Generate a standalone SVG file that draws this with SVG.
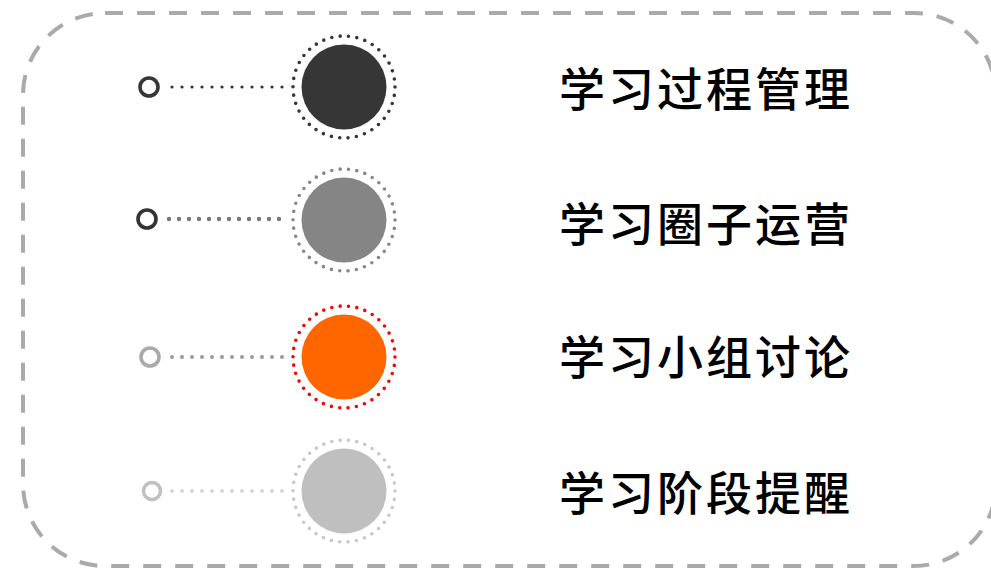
<svg xmlns="http://www.w3.org/2000/svg" width="991" height="570" viewBox="0 0 991 570">
<style>
.frame{fill:none;stroke:#aaaaaa;stroke-width:4;stroke-dasharray:18 14}
.ring{fill:none;stroke-width:3.6;stroke-linecap:round;stroke-dasharray:0 8.43}
.dotline{fill:none;stroke-linecap:round;stroke-dasharray:0 10}
.knob{fill:#ffffff;stroke-width:3.6}
.label{font-family:"Noto Sans CJK SC","Noto Sans CJK JP",sans-serif;font-size:46px;font-weight:500;fill:#000000;letter-spacing:3px}
</style>
<rect id="frame" class="frame" x="23" y="13" width="973" height="553" rx="82" ry="82"/>
<g id="connectors">
<line class="dotline" x1="172" y1="87" x2="284" y2="87" stroke="#333333" stroke-width="3.2"/>
<line class="dotline" x1="169" y1="219" x2="284" y2="219" stroke="#777777" stroke-width="4.4"/>
<line class="dotline" x1="172" y1="357" x2="284" y2="357" stroke="#999999" stroke-width="4"/>
<line class="dotline" x1="172" y1="491" x2="284" y2="491" stroke="#cccccc" stroke-width="3.6"/>
</g>
<g id="node1">
<circle class="knob" cx="149" cy="87" r="9" stroke="#363636"/>
<circle class="ring" cx="344" cy="87" r="51" stroke="#363636"/>
<circle cx="344" cy="87" r="42.5" fill="#363636"/>
<text class="label" x="559" y="106">学习过程管理</text>
</g>
<g id="node2">
<circle class="knob" cx="147" cy="219" r="9" stroke="#333333" stroke-width="4"/>
<circle class="ring" cx="344" cy="220" r="51" stroke="#888888"/>
<circle cx="344" cy="220" r="42.5" fill="#858585"/>
<text class="label" x="559" y="241">学习圈子运营</text>
</g>
<g id="node3">
<circle class="knob" cx="150" cy="357" r="9" stroke="#aaaaaa"/>
<circle class="ring" cx="344" cy="357" r="51" stroke="#ff0000"/>
<circle cx="344" cy="357" r="42.5" fill="#ff6600"/>
<text class="label" x="559" y="374">学习小组讨论</text>
</g>
<g id="node4">
<circle class="knob" cx="152" cy="491" r="8.5" stroke="#c0c0c0" stroke-width="3.2"/>
<circle class="ring" cx="344" cy="491" r="51" stroke="#c8c8c8"/>
<circle cx="344" cy="491" r="42.5" fill="#bfbfbf"/>
<text class="label" x="559" y="510">学习阶段提醒</text>
</g>
</svg>
